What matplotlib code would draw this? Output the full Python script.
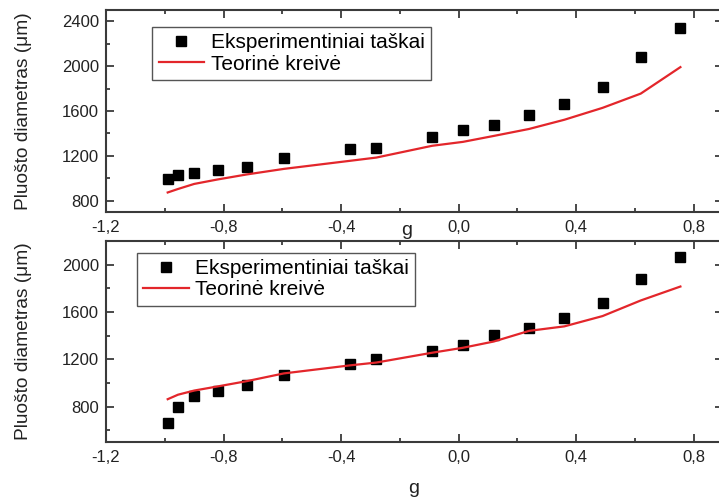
import matplotlib
matplotlib.use("Agg")
import matplotlib.pyplot as plt
from matplotlib.ticker import MultipleLocator, FuncFormatter


# asymmetry parameter g, same for both panels
g_values = [-0.99, -0.955, -0.9, -0.82, -0.72, -0.595, -0.37, -0.28,
            -0.09, 0.015, 0.12, 0.24, 0.36, 0.49, 0.62, 0.755]

# top panel
top_experiment = [990, 1031, 1049, 1073, 1099, 1180, 1259, 1271,
                  1366, 1434, 1478, 1562, 1659, 1816, 2080, 2338]
top_theory = [874, 905, 950, 990, 1035, 1084, 1156, 1185,
              1290, 1325, 1378, 1440, 1522, 1628, 1755, 1991]

# bottom panel
bottom_experiment = [663, 792, 892, 934, 982, 1069, 1159, 1201,
                     1268, 1321, 1405, 1467, 1551, 1675, 1882, 2067]
bottom_theory = [862, 900, 935, 970, 1015, 1080, 1148, 1172,
                 1255, 1297, 1350, 1440, 1478, 1565, 1697, 1815]

LABEL_EXP = "Eksperimentiniai taškai"
LABEL_THEORY = "Teorinė kreivė"
YLABEL = "Pluošto diametras (\u03bcm)"
XLABEL = "g"

RED = "#e3262b"
SPINE = "#3a3a3a"

plt.rcParams["font.family"] = ["Liberation Sans", "DejaVu Sans"]


def comma_fmt(v, pos):
    return f"{v:.1f}".replace(".", ",")


def style_axes(ax, ylim):
    ax.set_xlim(-1.2, 0.9)
    ax.set_ylim(*ylim)
    ax.xaxis.set_major_locator(MultipleLocator(0.4))
    ax.xaxis.set_minor_locator(MultipleLocator(0.2))
    ax.yaxis.set_major_locator(MultipleLocator(400))
    ax.yaxis.set_minor_locator(MultipleLocator(200))
    ax.xaxis.set_major_formatter(FuncFormatter(comma_fmt))
    ax.tick_params(which="both", direction="in", top=True, right=True,
                   colors=SPINE, width=1.3, labelsize=12, labelcolor="#222222")
    ax.tick_params(which="major", length=6)
    ax.tick_params(which="minor", length=3)
    ax.tick_params(axis="x", pad=6)
    ax.tick_params(axis="y", pad=5)
    for s in ax.spines.values():
        s.set_linewidth(1.5)
        s.set_color(SPINE)
    ax.set_xlabel(XLABEL, fontsize=14, color="#222222")
    ax.set_ylabel(YLABEL, fontsize=13.8, color="#222222")


def draw_panel(ax, exp, theory, ylim, legend_anchor):
    ax.plot(g_values, exp, linestyle="none", marker="s", markersize=7,
            color="black", label=LABEL_EXP)
    ax.plot(g_values, theory, color=RED, linewidth=1.6, label=LABEL_THEORY)
    style_axes(ax, ylim)
    leg = ax.legend(loc="upper left", bbox_to_anchor=legend_anchor,
                    fontsize=15, frameon=True, fancybox=False, framealpha=1,
                    handlelength=2.2, handletextpad=0.3, borderpad=0.3,
                    labelspacing=0.1, borderaxespad=0)
    leg.get_frame().set_edgecolor("#555555")
    leg.get_frame().set_linewidth(1.0)


fig = plt.figure(figsize=(7.19, 5.03), dpi=100)

W, H = 719, 503
ax_top = fig.add_axes([106 / W, 1 - 212 / H, 617 / W, 202 / H])
ax_bottom = fig.add_axes([106 / W, 1 - 442 / H, 617 / W, 201 / H])
# let the top panel's "g" show through, as in the original
ax_bottom.patch.set_visible(False)

draw_panel(ax_top, top_experiment, top_theory, (700, 2500), (0.075, 0.915))
draw_panel(ax_bottom, bottom_experiment, bottom_theory, (500, 2200), (0.05, 0.94))

ax_top.yaxis.set_label_coords(-0.12, 0.5)
ax_bottom.yaxis.set_label_coords(-0.12, 0.5)
ax_top.xaxis.set_label_coords(0.488, -0.05)
ax_bottom.xaxis.set_label_coords(0.498, -0.19)

fig.savefig("out.png", dpi=100)
